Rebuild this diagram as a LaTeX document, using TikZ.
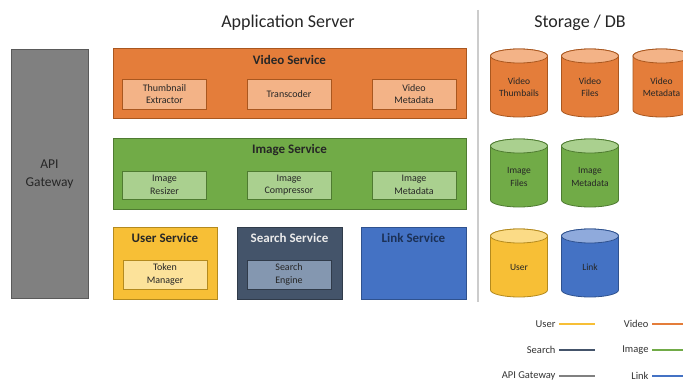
\documentclass[tikz,border=0pt]{standalone}
\usepackage{fontspec}
\setmainfont{Carlito}
\usetikzlibrary{positioning}

% colours of the services
\definecolor{vidfill}{HTML}{E47D3A}
\definecolor{vidsub}{HTML}{F3B387}
\definecolor{vidline}{HTML}{A9571F}
\definecolor{imgfill}{HTML}{71AB47}
\definecolor{imgsub}{HTML}{AAD08F}
\definecolor{imgline}{HTML}{4F7B31}
\definecolor{usrfill}{HTML}{F7BF36}
\definecolor{usrsub}{HTML}{FCE29A}
\definecolor{usrline}{HTML}{B48A1E}
\definecolor{srchfill}{HTML}{44546A}
\definecolor{srchsub}{HTML}{8497B0}
\definecolor{lnkfill}{HTML}{4472C4}
\definecolor{lnktop}{HTML}{8FAADC}
\definecolor{lnkline}{HTML}{2F528F}
\definecolor{gwfill}{HTML}{808080}
\definecolor{gwline}{HTML}{5A5A5A}

\tikzset{
  svcbox/.style={draw, line width=0.8pt, inner sep=0pt},
  subbox/.style={draw, line width=0.8pt, minimum width=84pt, inner sep=0pt,
    font=\fontsize{10}{12.5}\selectfont, align=center, text=black!85},
  svctitle/.style={font=\fontsize{13}{15}\selectfont\bfseries, text=black!85},
  dbtext/.style={font=\fontsize{9.5}{12.5}\selectfont, align=center, text=black!85},
  legtext/.style={anchor=east, font=\fontsize{10.5}{12}\selectfont, text=black!80},
  legline/.style={line width=1.5pt},
}

% database drum: name, centre x, top y, body, lid, border, label
\newcommand{\dbdrum}[7]{%
  \filldraw[fill=#4, draw=#6, line width=0.8pt]
    ({#2-28.5},{#3-7}) -- ({#2-28.5},{#3-61})
    arc[start angle=180, end angle=360, x radius=28.5, y radius=7]
    -- ({#2+28.5},{#3-7})
    arc[start angle=0, end angle=180, x radius=28.5, y radius=7] -- cycle;
  \filldraw[fill=#5, draw=#6, line width=0.8pt] (#2,{#3-7}) ellipse[x radius=28.5, y radius=7];
  \node[dbtext] (#1) at (#2,{#3-38}) {#7};
}

\begin{document}
\begin{tikzpicture}[x=1pt,y=1pt]
\useasboundingbox[fill=white] (0,0) rectangle (683,381);

% headings and divider
\node[font=\fontsize{18}{20}\selectfont, text=black!85] (apptitle) at (288,358) {Application Server};
\node[font=\fontsize{18}{20}\selectfont, text=black!85] (dbtitle) at (580,358) {Storage / DB};
\draw[black!20, line width=1.5pt] (478,371) -- (478,79);

% gateway
\node[svcbox, fill=gwfill, draw=gwline, minimum width=77pt, minimum height=249pt] (gateway) at (49.5,207.5) {};
\node[align=center, font=\fontsize{13.5}{18}\selectfont, text=black!85] (gwlabel) at (49.5,207) {API\\Gateway};

% video service
\node[svcbox, fill=vidfill, draw=vidline, minimum width=353pt, minimum height=70pt] (video) at (289.5,298) {};
\node[svctitle] (videotitle) at ([yshift=-12pt]video.north) {Video Service};
\node[subbox, fill=vidsub, draw=vidline, minimum height=30pt] (thumb) at (164.5,287) {Thumbnail\\Extractor};
\node[subbox, fill=vidsub, draw=vidline, minimum height=30pt] (transcode) at (289,287) {Transcoder};
\node[subbox, fill=vidsub, draw=vidline, minimum height=30pt] (vidmeta) at (414,287) {Video\\Metadata};

% image service
\node[svcbox, fill=imgfill, draw=imgline, minimum width=353pt, minimum height=71pt] (image) at (289.5,207.5) {};
\node[svctitle] (imagetitle) at ([yshift=-12pt]image.north) {Image Service};
\node[subbox, fill=imgsub, draw=imgline, minimum height=28pt] (resize) at (164.5,196) {Image\\Resizer};
\node[subbox, fill=imgsub, draw=imgline, minimum height=28pt] (compress) at (289,196) {Image\\Compressor};
\node[subbox, fill=imgsub, draw=imgline, minimum height=28pt] (imgmeta) at (414,196) {Image\\Metadata};

% user, search and link services
\node[svcbox, fill=usrfill, draw=usrline, minimum width=104pt, minimum height=72pt] (user) at (165,118) {};
\node[svctitle] (usertitle) at ([yshift=-11pt]user.north) {User Service};
\node[subbox, fill=usrsub, draw=usrline, minimum height=29pt] (token) at (165,106.5) {Token\\Manager};

\node[svcbox, fill=srchfill, draw=srchfill!70!black, minimum width=105pt, minimum height=72pt] (search) at (289.5,118) {};
\node[svctitle, text=white!92!black] (searchtitle) at ([yshift=-11pt]search.north) {Search Service};
\node[subbox, fill=srchsub, draw=srchfill!70!black, minimum height=29pt] (engine) at (289,106.5) {Search\\Engine};

\node[svcbox, fill=lnkfill, draw=lnkline, minimum width=105pt, minimum height=72pt] (link) at (413.5,118) {};
\node[svctitle, text=lnkline!60!black] (linktitle) at ([yshift=-11pt]link.north) {Link Service};

% storage
\dbdrum{dbthumbs}{519}{332}{vidfill}{vidsub}{vidline}{Video\\Thumbails}
\dbdrum{dbvidfiles}{590}{332}{vidfill}{vidsub}{vidline}{Video\\Files}
\dbdrum{dbvidmeta}{661.5}{332}{vidfill}{vidsub}{vidline}{Video\\Metadata}
\dbdrum{dbimgfiles}{519}{242}{imgfill}{imgsub}{imgline}{Image\\Files}
\dbdrum{dbimgmeta}{590}{242}{imgfill}{imgsub}{imgline}{Image\\Metadata}
\dbdrum{dbuser}{519}{152}{usrfill}{usrsub!80!usrfill}{usrline}{User}
\dbdrum{dblink}{590}{152}{lnkfill}{lnktop}{lnkline}{Link}

% legend
\node[legtext] (leguser) at (559,57) {User};
\node[legtext] (legsearch) at (559,31) {Search};
\node[legtext] (leggw) at (559,5) {API Gateway};
\node[legtext] (legvideo) at (652,57) {Video};
\node[legtext] (legimage) at (652,31) {Image};
\node[legtext] (leglink) at (652,5) {Link};
\coordinate (leguserend) at (595,57);
\coordinate (legsearchend) at (595,31);
\coordinate (leggwend) at (595,5);
\coordinate (legvideoend) at (690,57);
\coordinate (legimageend) at (690,31);
\coordinate (leglinkend) at (690,5);
\draw[legline, usrfill] (leguser) -- (leguserend);
\draw[legline, srchfill] (legsearch) -- (legsearchend);
\draw[legline, gwfill] (leggw) -- (leggwend);
\draw[legline, vidfill] (legvideo) -- (legvideoend);
\draw[legline, imgfill] (legimage) -- (legimageend);
\draw[legline, lnkfill] (leglink) -- (leglinkend);

\end{tikzpicture}
\end{document}
